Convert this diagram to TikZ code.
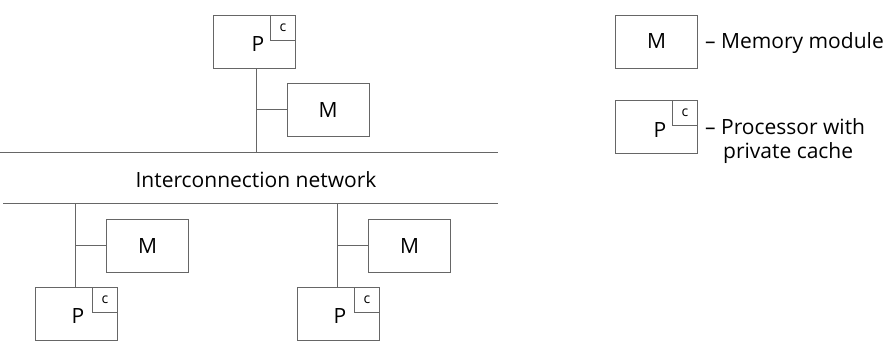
\documentclass[tikz,border=0pt]{standalone}
\usepackage{fontspec}
\setmainfont{Open Sans}
\begin{document}
\begin{tikzpicture}[x=1pt,y=-1pt,
  ln/.style={draw=black!60,line width=0.75pt},
  box/.style={ln,rectangle,inner sep=0pt,minimum width=82pt,minimum height=53pt},
  cbox/.style={ln,rectangle,inner sep=0pt,minimum width=25pt,minimum height=25pt,anchor=north east,font=\fontsize{14}{16}\selectfont},
  lbl/.style={font=\fontsize{21}{24}\selectfont,inner sep=0pt},
  wire/.style={ln,line width=0.6pt}]
\useasboundingbox (0,0) rectangle (887,341);
% top processor + memory
\node[box] (tP) at (254.5,41.5) {};
\node[lbl] (tPl) at (258,44) {P};
\node[cbox] (tC) at (tP.north east) {c};
\node[box] (tM) at (328,109.5) {};
\node[lbl] (tMl) at (tM) {M};
% buses
\coordinate (busTL) at (0,152);
\coordinate (busTR) at (498,152);
\coordinate (busBL) at (3,203);
\coordinate (busBR) at (498,203);
\draw[wire] (busTL) -- (busTR);
\draw[wire] (busBL) -- (busBR);
\node[lbl] (net) at (256,180) {Interconnection network};
% taps
\coordinate (t1) at (256,152);
\draw[wire] (t1) -- (t1 |- tP.south);
\draw[wire] (t1 |- tM.west) -- (tM.west);
% bottom left
\node[box] (bM1) at (147.5,245.5) {};
\node[lbl] (bM1l) at (bM1) {M};
\node[box] (bP1) at (76.5,313.5) {};
\node[lbl] (bP1l) at (78,316) {P};
\node[cbox] (bC1) at (bP1.north east) {c};
\coordinate (b1) at (75,203);
\draw[wire] (b1) -- (b1 |- bP1.north);
\draw[wire] (b1 |- bM1.west) -- (bM1.west);
% bottom middle
\node[box] (bM2) at (409.5,245.5) {};
\node[lbl] (bM2l) at (bM2) {M};
\node[box] (bP2) at (338.5,313.5) {};
\node[lbl] (bP2l) at (340,316) {P};
\node[cbox] (bC2) at (bP2.north east) {c};
\coordinate (b2) at (337,203);
\draw[wire] (b2) -- (b2 |- bP2.north);
\draw[wire] (b2 |- bM2.west) -- (bM2.west);
% legend
\node[box] (gM) at (656.5,41.5) {};
\node[lbl] (gMl) at (gM) {M};
\node[lbl,anchor=base west] (gMt) at (705,48) {– Memory module};
\node[box] (gP) at (656.5,127) {};
\node[lbl] (gPl) at (660,130) {P};
\node[cbox] (gC) at (gP.north east) {c};
\node[lbl,anchor=base west] (gPt) at (705,134) {– Processor with};
\node[lbl,anchor=base west] (gPt2) at (723,158) {private cache};
\end{tikzpicture}
\end{document}
